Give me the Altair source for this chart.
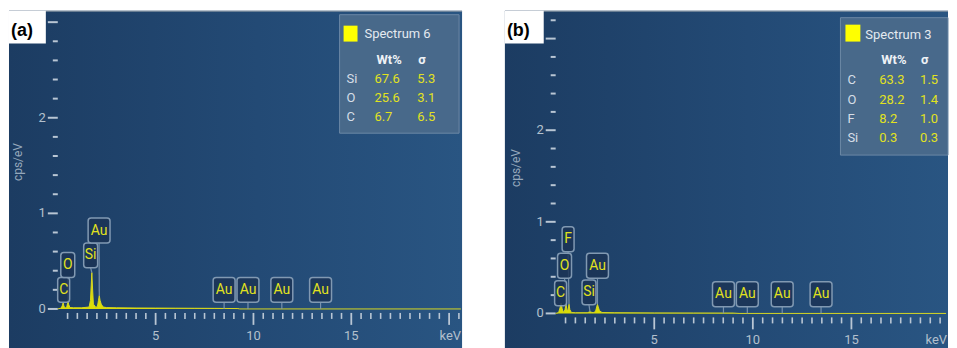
import altair as alt
import pandas as pd

# ---------------- data ----------------
# panel (a) spectrum: energy (keV) and intensity (cps/eV)
energy_a = [0.0, 0.18, 0.24, 0.277, 0.31, 0.38, 0.46, 0.50, 0.525, 0.55, 0.62, 0.8, 1.2, 1.6,
            1.67, 1.71, 1.74, 1.77, 1.82, 1.95, 2.03, 2.08, 2.12, 2.16, 2.22, 2.32, 2.5, 3.0,
            4.0, 5.0, 6.0, 7.0, 8.0, 8.6, 9.2, 9.3, 20.6]
counts_a = [0.0, 0.01, 0.04, 0.07, 0.03, 0.01, 0.02, 0.06, 0.09, 0.05, 0.015, 0.012, 0.012, 0.02,
            0.09, 0.25, 0.38, 0.24, 0.05, 0.015, 0.03, 0.09, 0.14, 0.09, 0.05, 0.02, 0.014, 0.012,
            0.01, 0.009, 0.008, 0.007, 0.006, 0.005, 0.004, 0.0, 0.0]
# panel (b) spectrum
energy_b = [0.0, 0.15, 0.22, 0.277, 0.33, 0.40, 0.47, 0.525, 0.58, 0.63, 0.677, 0.72, 0.8, 1.0,
            1.6, 1.7, 1.74, 1.78, 1.9, 2.02, 2.08, 2.12, 2.16, 2.22, 2.35, 3.0, 5.0, 7.0, 9.0,
            9.3, 19.8]
counts_b = [0.0, 0.01, 0.06, 0.11, 0.05, 0.01, 0.04, 0.10, 0.03, 0.04, 0.10, 0.04, 0.01, 0.008,
            0.008, 0.015, 0.02, 0.015, 0.008, 0.02, 0.07, 0.10, 0.07, 0.03, 0.01, 0.008, 0.006,
            0.005, 0.004, 0.0, 0.0]

# peak labels
lab_a_text = ["C", "O", "Si", "Au", "Au", "Au", "Au", "Au"]
lab_a_kev = [0.30, 0.51, 1.68, 2.11, 8.50, 9.72, 11.45, 13.43]
lab_a_y = [0.20, 0.46, 0.56, 0.82, 0.20, 0.20, 0.20, 0.20]
lab_a_peak_kev = [0.277, 0.525, 1.74, 2.12, 8.50, 9.72, 11.45, 13.43]
lab_a_peak_y = [0.07, 0.09, 0.38, 0.14, 0.0, 0.0, 0.0, 0.0]

lab_b_text = ["C", "O", "F", "Si", "Au", "Au", "Au", "Au", "Au"]
lab_b_kev = [0.25, 0.45, 0.63, 1.69, 2.12, 8.51, 9.72, 11.49, 13.46]
lab_b_y = [0.22, 0.52, 0.81, 0.23, 0.52, 0.21, 0.21, 0.21, 0.21]
lab_b_peak_kev = [0.277, 0.525, 0.677, 1.74, 2.12, 8.51, 9.72, 11.49, 13.46]
lab_b_peak_y = [0.11, 0.10, 0.10, 0.02, 0.10, 0.0, 0.0, 0.0, 0.0]

# quantification tables
legend_title_a = "Spectrum 6"
legend_el_a = ["Si", "O", "C"]
legend_wt_a = ["67.6", "25.6", "6.7"]
legend_sig_a = ["5.3", "3.1", "6.5"]
legend_title_b = "Spectrum 3"
legend_el_b = ["C", "O", "F", "Si"]
legend_wt_b = ["63.3", "28.2", "8.2", "0.3"]
legend_sig_b = ["1.5", "1.4", "1.0", "0.3"]

# axes
y_major = [0, 1, 2, 3]
y_major_labels = ["0", "1", "2", "3"]
y_minor = [0.2, 0.4, 0.6, 0.8, 1.2, 1.4, 1.6, 1.8, 2.2, 2.4, 2.6, 2.8, 3.2]
x_major = [5, 10, 15, 20]
x_major_labels = ["5", "10", "15", "keV"]
x_minor = [v / 2 for v in range(1, 42) if v % 10 != 0]

# ---------------- styles / layout ----------------
FONT = "Roboto"
YEL = "#e2e21e"
TICK = "#b9c6d4"
TICKLBL = "#b3c0cd"
BOX_FILL = "#1b3456"
BOX_STROKE = "#8199b2"
BG = alt.LinearGradient(
    gradient="linear",
    stops=[alt.GradientStop(color="#1c3c62", offset=0),
           alt.GradientStop(color="#234a75", offset=0.55),
           alt.GradientStop(color="#295582", offset=1)],
    x1=0, x2=1, y1=0.5, y2=0.5)

GEOM_A = dict(w=455, h=340, zero_x=49, kev_px=19.65, zero_y=299.5, unit_px=96,
              tag="(a)", tagbox=37, ytitle=(9, 152),
              leg=dict(box=(332, 4, 452, 123), sq=(336, 15, 350, 31), title=(357, 23),
                       head_y=50, cols=(339, 367, 410), row0=69, step=19))
GEOM_B = dict(w=445, h=340, zero_x=51, kev_px=19.8, zero_y=304, unit_px=92,
              tag="(b)", tagbox=39, ytitle=(11, 158),
              leg=dict(box=(337, 7, 445, 145), sq=(342, 14, 357, 31), title=(362, 24),
                       head_y=50, cols=(344, 376, 417), row0=70, step=19.3))

one = alt.Data(values=[{"o": 1}])


def text_at(s, x, y, size=13, color="#e6ecf2", weight="normal", align="left"):
    return alt.Chart(one).mark_text(
        text=s, align=align, baseline="middle", font=FONT, fontSize=size,
        color=color, fontWeight=weight).encode(x=alt.value(x), y=alt.value(y))


def build_panel(energy, counts, lab, legend, g):
    W, H = g["w"], g["h"]
    kpx, upx = g["kev_px"], g["unit_px"]
    xmin = -g["zero_x"] / kpx
    xmax = xmin + W / kpx
    ymax = g["zero_y"] / upx
    ymin = ymax - H / upx
    xs = alt.Scale(domain=[xmin, xmax], nice=False, zero=False)
    ys = alt.Scale(domain=[ymin, ymax], nice=False, zero=False)

    def X(f):
        return alt.X(f, type="quantitative", scale=xs, axis=None)

    def Y(f):
        return alt.Y(f, type="quantitative", scale=ys, axis=None)

    X0 = alt.XDatum(0, scale=xs, axis=None)
    Y0 = alt.YDatum(0, scale=ys, axis=None)

    layers = []
    # background panel
    layers.append(alt.Chart(one).mark_rect(fill=BG).encode(
        x=alt.value(0), x2=alt.value(W), y=alt.value(0), y2=alt.value(H)))
    layers.append(alt.Chart(one).mark_rule(color="#8a97a5", strokeWidth=1).encode(
        x=alt.value(0), x2=alt.value(W), y=alt.value(0.5)))

    # y ticks (only those inside the panel)
    ymaj = pd.DataFrame({"v": y_major, "t": y_major_labels})
    ymin_df = pd.DataFrame({"v": y_minor})
    yfilter = f"datum.v <= {ymax}"
    layers.append(alt.Chart(ymaj).transform_filter(yfilter)
                  .mark_rule(color=TICK, strokeWidth=2, xOffset=-10, x2Offset=0)
                  .encode(x=X0, x2=alt.X2Datum(0), y=Y("v")))
    layers.append(alt.Chart(ymin_df).transform_filter(yfilter)
                  .mark_rule(color=TICK, strokeWidth=2, xOffset=-5, x2Offset=0)
                  .encode(x=X0, x2=alt.X2Datum(0), y=Y("v")))
    layers.append(alt.Chart(ymaj).transform_filter(yfilter)
                  .mark_text(align="right", baseline="middle", dx=-12, font=FONT,
                             fontSize=13, color=TICKLBL)
                  .encode(x=X0, y=Y("v"), text="t:N"))
    # x ticks
    xmaj = pd.DataFrame({"v": x_major, "t": x_major_labels})
    xmin_df = pd.DataFrame({"v": x_minor})
    xfilter = f"datum.v <= {xmax}"
    layers.append(alt.Chart(xmin_df).transform_filter(xfilter)
                  .mark_rule(color=TICK, strokeWidth=1.6, yOffset=4, y2Offset=10)
                  .encode(x=X("v"), y=Y0, y2=alt.Y2Datum(0)))
    layers.append(alt.Chart(xmaj).transform_filter(xfilter)
                  .mark_rule(color=TICK, strokeWidth=1.8, yOffset=4, y2Offset=16)
                  .encode(x=X("v"), y=Y0, y2=alt.Y2Datum(0)))
    # labels well inside the panel: centred on their tick
    layers.append(alt.Chart(xmaj).transform_filter(f"datum.v <= {xmax - 0.7}")
                  .mark_text(align="center", baseline="middle", dy=27, font=FONT,
                             fontSize=13, color=TICKLBL)
                  .encode(x=X("v"), y=Y0, text="t:N"))
    # the last label (keV) sits against the right edge
    layers.append(alt.Chart(xmaj).transform_filter(f"datum.v > {xmax - 0.7}")
                  .mark_text(align="right", baseline="middle", dy=27, dx=-1, font=FONT,
                             fontSize=13, color=TICKLBL)
                  .encode(x=alt.XDatum(xmax, scale=xs, axis=None), y=Y0, text="t:N"))

    # spectrum
    spec = pd.DataFrame({"e": energy, "c": counts})
    layers.append(alt.Chart(spec).mark_area(color="#e6e600", opacity=0.95, clip=True)
                  .encode(x=X("e"), y=Y("c"), y2=alt.Y2Datum(0)))
    layers.append(alt.Chart(spec).mark_line(color="#d8d820", strokeWidth=1, clip=True)
                  .encode(x=X("e"), y=Y("c")))

    # peak labels
    labdf = pd.DataFrame({"el": lab[0], "k": lab[1], "ly": lab[2], "pk": lab[3], "py": lab[4]})
    base = alt.Chart(labdf).transform_calculate(
        hw="datum.el == 'Au' ? 11 : ((datum.el == 'C' || datum.el == 'F') ? 6 : 7)",
    ).transform_calculate(
        bx1=f"datum.k - datum.hw / {kpx}",
        bx2=f"datum.k + datum.hw / {kpx}",
        by1=f"datum.ly - 12.5 / {upx}",
        by2=f"datum.ly + 12.5 / {upx}",
    )
    layers.append(base.mark_rule(color=BOX_STROKE, strokeWidth=1.2, opacity=0.9, yOffset=12.5)
                  .encode(x=X("k"), y=Y("ly"), x2=alt.X2("pk"), y2=alt.Y2("py")))
    layers.append(base.mark_rect(fill=BOX_FILL, fillOpacity=0.85, stroke=BOX_STROKE,
                                 strokeWidth=1.5, cornerRadius=3)
                  .encode(x=X("bx1"), x2=alt.X2("bx2"), y=Y("by1"), y2=alt.Y2("by2")))
    layers.append(base.mark_text(color=YEL, font=FONT, fontSize=14, baseline="middle")
                  .encode(x=X("k"), y=Y("ly"), text="el:N"))

    # quantification legend
    L = g["leg"]
    bx = L["box"]
    layers.append(alt.Chart(one).mark_rect(fill="#4a6a8b", fillOpacity=0.95, stroke="#6c88a5",
                                           strokeWidth=1)
                  .encode(x=alt.value(bx[0]), x2=alt.value(min(bx[2], W)),
                          y=alt.value(bx[1]), y2=alt.value(bx[3])))
    sq = L["sq"]
    layers.append(alt.Chart(one).mark_rect(fill="#ffff00")
                  .encode(x=alt.value(sq[0]), x2=alt.value(sq[2]),
                          y=alt.value(sq[1]), y2=alt.value(sq[3])))
    layers.append(text_at(legend[0], L["title"][0], L["title"][1], size=13, color="#e4eaf0"))
    c0, c1, c2 = L["cols"]
    layers.append(text_at("Wt%", c1 + 2, L["head_y"], color="#eef2f6", weight="bold"))
    layers.append(text_at("σ", c2 + 1, L["head_y"], color="#eef2f6", weight="bold"))
    for i, (el, wt, sg) in enumerate(zip(legend[1], legend[2], legend[3])):
        yy = L["row0"] + i * L["step"]
        layers.append(text_at(el, c0, yy, color="#d6dee7"))
        layers.append(text_at(wt, c1, yy, color=YEL))
        layers.append(text_at(sg, c2, yy, color=YEL))

    # axis title
    layers.append(alt.Chart(one).mark_text(text="cps/eV", angle=270, font=FONT, fontSize=12,
                                           color="#95a8bc", baseline="middle")
                  .encode(x=alt.value(g["ytitle"][0]), y=alt.value(g["ytitle"][1])))

    # panel tag
    layers.append(alt.Chart(one).mark_rect(fill="white")
                  .encode(x=alt.value(0), x2=alt.value(g["tagbox"]), y=alt.value(0), y2=alt.value(33)))
    layers.append(alt.Chart(one).mark_text(text=g["tag"], font="Liberation Sans", fontWeight="bold",
                                           fontSize=18, color="black", align="left",
                                           baseline="middle")
                  .encode(x=alt.value(2), y=alt.value(20)))

    return alt.layer(*layers).properties(width=W, height=H)


pa = build_panel(energy_a, counts_a,
                 (lab_a_text, lab_a_kev, lab_a_y, lab_a_peak_kev, lab_a_peak_y),
                 (legend_title_a, legend_el_a, legend_wt_a, legend_sig_a), GEOM_A)
pb = build_panel(energy_b, counts_b,
                 (lab_b_text, lab_b_kev, lab_b_y, lab_b_peak_kev, lab_b_peak_y),
                 (legend_title_b, legend_el_b, legend_wt_b, legend_sig_b), GEOM_B)

chart = alt.hconcat(pa, pb, spacing=41).resolve_scale(
    x="independent", y="independent"
).properties(
    padding={"left": 0, "top": 2, "right": 0, "bottom": 0}
).configure_view(strokeWidth=0)

chart.save("out.html", embed_options={"renderer": "svg", "actions": False})
